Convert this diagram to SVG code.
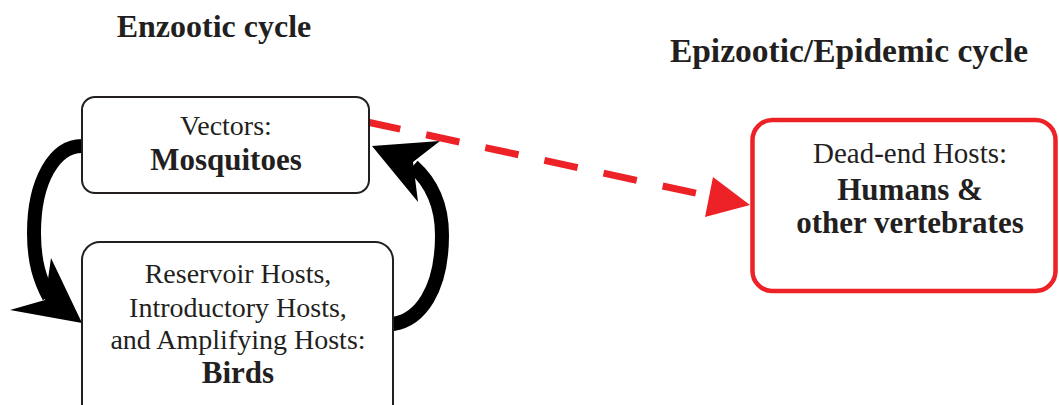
<svg xmlns="http://www.w3.org/2000/svg" width="1059" height="405" viewBox="0 0 1059 405">
<style>
text{font-family:"Liberation Serif","Times New Roman",serif;fill:#231f20;text-anchor:middle}
.r{font-size:28px}
.b{font-size:31px;font-weight:bold}
.t{font-size:32px;font-weight:bold}
.box{fill:#fff;stroke:#231f20;stroke-width:2}
.rbox{fill:#fff;stroke:#ed2227;stroke-width:4.5}
.shaft{fill:none;stroke:#000;stroke-width:14}
.head{fill:#000}
.dash{fill:none;stroke:#ed2227;stroke-width:7;stroke-dasharray:34 26.5}
</style>
<rect width="1059" height="405" fill="#fff"/>
<g id="titles">
<text class="t" x="214" y="37">Enzootic cycle</text>
<text class="t" x="849" y="62" style="font-size:33.5px">Epizootic/Epidemic cycle</text>
</g>
<g id="connectors">
<path class="shaft" d="M82,146 C55,146 34,180 34,233 C34,262 40,280 49,297"/>
<polygon class="head" points="82,323 10,310 45,300 51,258"/>
<path class="shaft" d="M393,324 C420,320 442,290 442,235 C442,205 432,183 413,166"/>
<polygon class="head" points="372,146 440,141 413,162 418,202"/>
<path class="dash" d="M367,122 L709,196"/>
<polygon points="750,205 713,177 705,217" fill="#ed2227"/>
</g>
<g id="vectors">
<rect class="box" x="82" y="97" width="287" height="96" rx="13"/>
<text class="r" x="226" y="135">Vectors:</text>
<text class="b" x="226" y="170">Mosquitoes</text>
</g>
<g id="birds">
<rect class="box" x="82" y="242" width="311" height="180" rx="18"/>
<text class="r" x="238" y="283">Reservoir Hosts,</text>
<text class="r" x="238" y="317">Introductory Hosts,</text>
<text class="r" x="238" y="349">and Amplifying Hosts:</text>
<text class="b" x="238" y="383">Birds</text>
</g>
<g id="deadend">
<rect class="rbox" x="752.5" y="120" width="303" height="171" rx="20"/>
<text class="r" x="910" y="163" style="font-size:29px">Dead-end Hosts:</text>
<text class="b" x="910" y="200">Humans &amp;</text>
<text class="b" x="910" y="233">other vertebrates</text>
</g>
</svg>
